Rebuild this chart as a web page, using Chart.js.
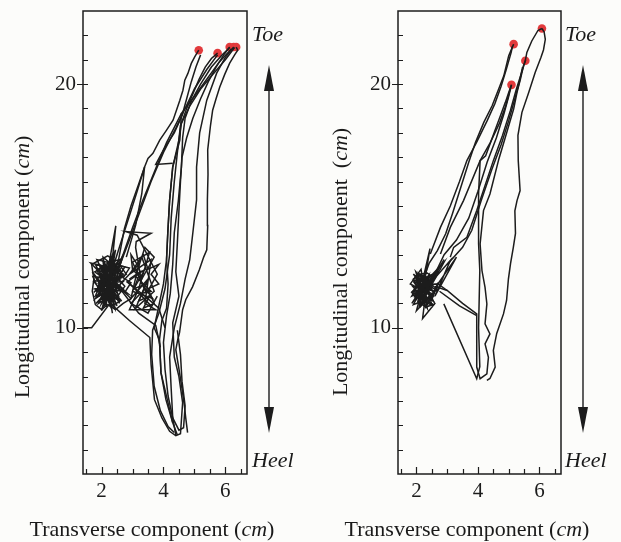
<!DOCTYPE html>
<html lang="en">
<head>
<meta charset="utf-8">
<title>Trayectorias</title>
<script src="https://cdn.jsdelivr.net/npm/chart.js@4.4.1/dist/chart.umd.min.js"></script>
<style>
  body { margin: 0; background: #fcfcfa; }
  #lienzo { position: relative; width: 621px; height: 542px; overflow: hidden;
            font-family: "Liberation Serif", "Times New Roman", serif; color: #1a1a1a; }
  canvas { position: absolute; top: 0; }
  .txt { position: absolute; font-size: 22px; line-height: 22px; white-space: pre; }
  .tit-x { width: 300px; text-align: center; top: 518px; }
  .tit-y { width: 320px; text-align: center; transform: rotate(-90deg); }
  .ext { font-style: italic; }
</style>
</head>
<body>
<div id="lienzo">
  <canvas id="chartIzq" width="310" height="542" style="left:0"></canvas>
  <canvas id="chartDer" width="311" height="542" style="left:310px"></canvas>

  <div class="txt tit-y" style="left:-138px; top:256px">Longitudinal component (<i>cm</i>)</div>
  <div class="txt tit-y" style="left:180px; top:251px">Longitudinal component  (<i>cm</i>)</div>
  <div class="txt tit-x" style="left:2px">Transverse component (<i>cm</i>)</div>
  <div class="txt tit-x" style="left:317px">Transverse component (<i>cm</i>)</div>

  <div class="txt ext" style="left:252px; top:23px">Toe</div>
  <div class="txt ext" style="left:252px; top:449px">Heel</div>
  <div class="txt ext" style="left:565px; top:23px">Toe</div>
  <div class="txt ext" style="left:565px; top:449px">Heel</div>
</div>

<script>
// Ejes (cm)
const etiquetasX = [2, 4, 6];
const etiquetasY = [10, 20];
const marcasX = [1.5, 2, 2.5, 3, 3.5, 4, 4.5, 5, 5.5, 6, 6.5];
const marcasY = [5, 6, 7, 8, 9, 10, 11, 12, 13, 14, 15, 16, 17, 18, 19, 20, 21, 22];

// === Panel izquierdo ===
const izqPuntaX = [5.14, 5.75, 6.14, 6.27, 6.35];
const izqPuntaY = [21.39, 21.27, 21.52, 21.52, 21.52];

const izqNube1 = [[1.41,10.0],[1.68,10.0],[2.27,11.0],[1.95,11.9],[2.5,12.4],[1.8,12.6],[2.35,11.2],[2.05,12.3],[2.7,11.6],[1.9,11.3],[2.3,12.8],[2.15,10.9],[1.72,12.1],[2.6,12.0],[2.0,11.5],[2.45,13.2],[2.25,11.7],[1.85,12.8],[2.75,12.5],[2.1,11.1],[2.4,11.9],[1.78,11.6],[2.55,11.3],[2.2,12.5],[1.65,12.66],[2.15,12.0],[2.46,14.18],[2.3,12.2],[2.0,10.7],[2.6,12.7],[1.95,12.2],[2.5,10.9],[2.3,11.5],[1.82,11.0],[2.68,12.2],[2.05,12.9],[2.35,10.6],[2.2,11.8],[2.85,11.4],[1.9,12.4],[2.4,12.6],[2.1,11.4],[2.7,13.0],[2.25,11.1],[1.75,11.9],[2.55,12.1],[2.0,11.0],[2.38,12.4],[1.88,11.7],[2.62,11.5],[2.12,12.6],[2.42,10.8],[1.7,12.3],[2.3,11.3]];
const izqNube2 = [[2.6,11.8],[3.2,12.6],[2.95,11.2],[3.5,12.0],[3.1,10.8],[3.7,11.5],[3.3,12.9],[2.9,12.2],[3.6,12.8],[3.4,11.0],[3.75,10.74],[2.9,10.74],[3.2,11.6],[3.55,13.1],[3.0,12.7],[3.45,11.4],[3.8,12.2],[3.15,13.8],[2.79,13.95],[3.6,13.88],[3.12,13.54],[3.1,13.3],[3.3,11.8],[3.65,11.2],[3.0,11.5],[3.4,12.4],[2.85,11.9],[3.6,10.9]];
const izqNube3 = [[2.0,12.0],[2.45,11.2],[1.85,11.5],[2.6,12.4],[2.1,10.95],[2.3,12.65],[1.78,12.3],[2.55,11.6],[2.0,12.5],[2.4,11.0],[1.9,11.8],[2.7,11.9],[2.2,11.3],[2.05,12.7],[2.5,11.8],[1.8,11.2],[2.35,12.3],[2.15,11.6],[2.65,11.1],[1.95,12.1],[2.28,10.9],[2.5,12.6],[1.85,12.0],[2.4,11.5],[2.1,12.35],[2.7,12.2],[2.0,11.3],[2.32,11.85],[1.92,12.6],[2.58,11.0],[2.2,12.1],[1.75,11.45],[2.45,12.45],[2.08,11.7],[2.62,11.75]];
const izqNube4 = [[1.9,11.6],[2.1,11.9],[1.95,12.2],[2.25,12.0],[2.1,12.4],[2.4,12.2],[2.2,11.8],[2.5,11.6],[2.3,11.3],[2.6,11.1],[2.35,10.9],[2.15,11.2],[1.9,11.0],[2.05,11.4],[1.8,11.3],[1.95,11.75],[2.2,11.55],[2.45,11.9],[2.65,12.3],[2.4,12.55],[2.6,12.8],[2.3,12.7],[2.05,12.55],[1.85,12.35],[2.0,12.0],[2.35,11.65],[2.55,11.35],[2.75,11.7],[2.55,12.0],[2.8,12.2],[2.6,12.55],[2.9,12.45],[2.7,12.05],[2.95,11.85],[2.75,11.45],[2.95,11.2],[2.7,11.0],[2.45,10.75],[2.2,10.95],[2.0,10.75],[1.8,10.95],[1.7,11.5],[1.75,12.0],[1.68,12.6],[1.9,12.75],[2.2,12.95],[2.45,12.75]];
const izqNube5 = [[2.9,12.0],[3.25,12.3],[3.05,11.6],[3.45,11.8],[3.2,11.1],[3.55,11.3],[3.35,10.8],[3.7,11.0],[3.5,11.6],[3.85,11.8],[3.6,12.2],[3.85,12.6],[3.5,12.4],[3.35,13.0],[3.15,12.6],[2.95,13.0],[3.0,12.4],[3.3,12.0],[3.7,12.9],[3.4,13.3],[3.1,12.1],[3.6,11.5],[3.25,11.4],[2.95,11.0],[3.5,10.6],[3.8,11.3]];

const izqPaso1 = [[2.3,12.0],[2.55,12.8],[2.74,14.08],[2.95,15.0],[3.2,15.9],[3.39,16.6],[3.5,16.95],[3.66,17.16],[3.88,17.7],[4.1,18.11],[4.31,18.52],[4.42,18.93],[4.53,19.34],[4.63,19.75],[4.69,20.16],[4.79,20.44],[4.9,20.85],[5.01,21.12],[5.14,21.39]];
const izqPaso2 = [[4.45,5.6],[4.3,6.1],[4.08,7.05],[3.92,8.16],[3.87,9.5],[3.95,10.3],[4.1,10.8],[4.15,11.8],[4.1,12.8],[4.14,13.9],[4.2,15.25],[4.3,16.6],[4.5,17.7],[4.58,18.4],[4.75,19.0],[4.95,19.6],[5.15,20.2],[5.35,20.7],[5.55,21.05],[5.75,21.27]];
const izqPaso3 = [[2.37,10.9],[2.9,10.3],[3.56,9.6],[3.6,8.5],[3.71,7.05],[3.95,6.3],[4.2,5.75],[4.4,5.57],[4.55,5.65],[4.62,6.93],[4.5,8.0],[4.35,8.8],[4.3,10.2],[4.5,11.3],[4.4,12.3],[4.45,13.5],[4.5,14.8],[4.55,16.0],[4.6,17.0],[4.75,17.8],[4.95,18.6],[5.2,19.4],[5.45,20.1],[5.7,20.7],[5.95,21.2],[6.14,21.52]];
const izqPaso4 = [[4.4,5.6],[4.3,6.3],[4.25,7.5],[4.2,8.8],[4.35,10.0],[4.55,11.0],[4.7,12.0],[4.85,12.8],[4.95,13.9],[5.07,15.25],[5.07,16.6],[5.17,18.0],[5.4,19.34],[5.72,20.45],[6.0,21.1],[6.27,21.52]];
const izqPaso5 = [[4.78,5.7],[4.72,6.3],[4.68,6.76],[4.6,7.5],[4.52,8.16],[4.45,8.7],[4.4,9.1],[4.46,9.5],[4.52,9.8],[4.62,10.74],[4.72,11.15],[4.94,11.68],[5.16,12.38],[5.3,12.9],[5.4,13.2],[5.43,14.2],[5.42,15.25],[5.44,16.3],[5.43,17.3],[5.52,18.3],[5.59,18.93],[5.7,19.4],[5.82,19.88],[5.98,20.4],[6.14,20.86],[6.3,21.2],[6.4,21.39],[6.35,21.52]];

const izqVuelta1 = [[6.2,21.45],[5.8,20.9],[5.4,20.2],[5.0,19.5],[4.58,18.8],[4.1,17.6],[3.77,16.6],[3.34,15.25],[3.0,14.1],[2.75,13.2],[2.5,12.3]];
const izqVuelta2 = [[5.75,21.2],[5.4,20.6],[5.0,19.8],[4.7,19.0],[4.4,18.2],[4.0,17.2],[3.6,16.0],[3.25,14.8],[2.9,13.6],[2.6,12.6]];
const izqVuelta3 = [[4.58,18.8],[4.53,17.7],[4.3,16.6],[4.2,15.25],[4.14,13.9],[4.1,12.8],[4.0,11.8],[3.85,10.9],[3.7,10.0],[3.87,9.5],[3.92,8.16],[4.3,6.1]];
const izqVuelta4 = [[5.2,21.2],[5.05,20.7],[4.9,20.1],[4.75,19.4],[4.6,18.7],[4.35,18.0],[4.0,17.3],[3.75,16.7],[4.3,16.75]];
const izqVuelta5 = [[6.3,21.5],[6.0,21.0],[5.6,20.4],[5.2,19.8],[4.85,19.1],[4.55,18.3],[4.45,17.2],[4.35,16.0],[4.25,14.5],[4.2,13.0],[4.05,11.6],[3.85,10.6],[3.65,9.9],[3.62,8.9],[3.7,7.6],[3.9,6.6],[4.15,5.95],[4.35,5.7]];
const izqVuelta6 = [[6.14,21.5],[5.9,21.2],[5.55,20.7],[5.2,20.0],[4.9,19.3],[4.7,18.6],[4.62,17.8],[4.58,16.6],[4.48,15.2],[4.35,13.9],[4.3,12.6],[4.22,11.4],[4.1,10.5],[4.0,9.4],[4.05,8.3],[4.15,7.2],[4.3,6.3],[4.5,5.8],[4.65,5.9],[4.7,6.8],[4.6,7.8],[4.55,8.9],[4.45,9.9]];
const izqCruces1 = [[2.6,11.6],[3.2,10.6],[3.75,10.1],[3.9,9.2]];
const izqCruces2 = [[2.8,11.9],[3.4,11.3],[3.85,10.8],[4.05,10.0]];
const izqCruces3 = [[2.4,12.6],[2.65,13.6],[2.9,14.6],[3.15,15.6],[3.39,16.6],[3.3,15.5],[3.1,14.2],[2.8,12.9]];

// === Panel derecho ===
const derPuntaX = [6.08, 5.16, 5.54, 5.09];
const derPuntaY = [22.28, 21.64, 20.96, 19.97];

const derNube = [[2.2,11.5],[1.9,11.9],[2.4,11.1],[2.0,12.1],[2.5,11.7],[1.85,11.3],[2.3,12.3],[2.1,10.9],[2.6,12.0],[1.95,11.6],[2.35,10.8],[2.15,12.4],[1.8,11.8],[2.55,11.3],[2.05,11.1],[2.44,13.25],[2.25,11.8],[1.9,12.2],[2.6,11.0],[2.2,10.38],[2.3,11.4],[2.0,11.9],[2.7,12.3],[2.1,11.5],[1.85,11.0],[2.45,12.0],[2.25,11.2],[2.9,12.7],[2.15,11.7],[1.95,11.4],[2.5,10.9],[2.3,12.1],[2.0,10.7],[2.65,11.6],[2.1,12.2],[2.35,11.6],[1.88,11.5],[2.55,12.2],[2.18,11.0],[2.4,11.7],[2.05,11.8],[2.28,10.95],[1.98,12.3],[2.6,11.4]];
const derNube2 = [[2.25,11.6],[1.95,11.1],[2.5,11.9],[2.05,12.2],[2.35,11.0],[1.88,11.7],[2.6,11.5],[2.15,10.9],[2.4,12.15],[2.0,11.4],[2.55,11.1],[2.2,12.0],[1.9,11.95],[2.45,11.35],[2.1,11.75],[2.7,11.8],[2.3,10.85],[1.98,12.05],[2.38,11.45],[2.12,11.15],[2.62,12.1],[1.92,11.25],[2.28,11.9],[2.5,11.6],[2.05,11.55]];
const derNube3 = [[2.0,11.4],[2.2,11.7],[2.05,11.95],[2.3,11.85],[2.15,12.15],[2.4,12.0],[2.25,11.55],[2.5,11.4],[2.3,11.15],[2.55,10.95],[2.3,10.85],[2.1,11.05],[1.9,10.95],[2.0,11.2],[1.85,11.45],[2.0,11.7],[1.9,12.0],[2.1,12.2],[2.35,12.25],[2.55,12.05],[2.45,11.7],[2.65,11.55],[2.7,11.85],[2.5,11.15],[2.2,11.3],[1.95,11.55]];
const derPicos = [[2.3,11.6],[2.9,12.8],[2.5,11.9],[3.1,12.76],[2.6,11.3],[3.3,12.9],[2.7,11.8],[3.0,11.53]];

const derPaso1 = [[4.29,7.84],[4.39,7.92],[4.56,8.39],[4.5,9.07],[4.61,9.77],[4.83,10.57],[4.93,11.12],[4.99,12.0],[5.06,12.64],[5.15,13.3],[5.22,13.87],[5.2,14.8],[5.27,15.22],[5.37,15.63],[5.31,16.86],[5.3,17.9],[5.43,18.84],[5.65,19.66],[5.86,20.48],[6.05,21.1],[6.13,21.4],[6.19,21.84],[6.15,22.15],[6.08,22.28]];
const derPaso2 = [[2.2,11.9],[2.41,12.64],[2.68,13.17],[2.95,13.86],[3.17,14.68],[3.44,15.76],[3.7,16.79],[3.92,17.61],[4.19,18.43],[4.46,19.11],[4.68,19.82],[4.84,20.34],[5.0,21.16],[5.16,21.64]];
const derPaso3 = [[2.6,11.7],[3.0,11.53],[3.5,11.0],[3.96,10.57],[3.96,9.5],[3.96,8.39],[4.07,7.91],[4.29,8.11],[4.34,8.79],[4.23,9.34],[4.39,9.75],[4.23,10.16],[4.29,10.98],[4.23,11.66],[4.13,12.35],[4.07,13.44],[4.18,14.81],[4.39,15.49],[4.68,16.93],[4.84,17.6],[5.0,18.29],[5.16,18.98],[5.27,19.66],[5.38,20.2],[5.48,20.75],[5.54,20.96]];
const derPaso4 = [[2.89,10.98],[3.96,7.91],[4.06,8.4],[4.02,10.0],[4.06,12.35],[4.02,13.46],[4.02,15.5],[4.07,16.86],[4.25,17.06],[4.41,17.6],[4.57,18.16],[4.73,18.7],[4.89,19.25],[5.0,19.66],[5.09,19.97]];

const derVuelta1 = [[2.45,13.03],[2.78,14.12],[3.1,15.0],[3.4,16.0],[3.64,16.86],[3.95,17.6],[4.3,18.5],[4.55,19.2],[4.75,19.9],[4.92,20.6],[5.08,21.3],[5.12,21.55]];
const derVuelta2 = [[2.78,13.03],[3.1,14.12],[3.53,15.22],[4.07,16.86],[4.4,17.6],[4.7,18.4],[4.9,19.1],[5.05,19.8]];
const derVuelta3 = [[3.1,12.9],[3.21,13.3],[3.64,13.71],[3.96,14.81],[4.5,16.86],[4.8,17.9],[5.05,18.9],[5.25,19.8],[5.45,20.6],[5.55,21.0]];
const derVuelta4 = [[5.54,20.96],[5.59,21.3],[5.75,21.77],[5.95,22.2],[6.08,22.28]];
const derVuelta5 = [[2.6,12.2],[2.9,13.0],[3.3,13.6],[3.7,14.5],[4.0,15.6],[4.3,16.8],[4.6,17.8],[4.85,18.8],[5.0,19.5],[5.09,19.97]];
const derVuelta6 = [[3.0,12.6],[3.5,13.3],[3.8,14.0],[4.1,15.2],[4.45,16.5],[4.75,17.5],[5.0,18.5],[5.2,19.4],[5.35,20.1],[5.45,20.7]];
const derBajada = [[2.75,11.5],[3.4,10.9],[3.96,10.5]];

const tinta = "#1c1c1c";
const fuenteTicks = { family: "Liberation Serif", size: 21 };

// Marco, marcas de los ejes y flecha Toe/Heel
const marco = {
  id: "marco",
  afterDraw(chart, args, opts) {
    const { ctx, chartArea: a, scales: { x, y } } = chart;
    ctx.save();
    ctx.strokeStyle = tinta;
    ctx.fillStyle = tinta;
    ctx.lineWidth = 1.5;
    ctx.strokeRect(a.left, a.top, a.right - a.left, a.bottom - a.top);

    ctx.lineWidth = 1.2;
    ctx.beginPath();
    marcasX.forEach(v => {
      const px = Math.round(x.getPixelForValue(v)) + 0.5;
      const largo = etiquetasX.includes(v) ? 7 : 5;
      ctx.moveTo(px, a.bottom);
      ctx.lineTo(px, a.bottom - largo);
    });
    marcasY.forEach(v => {
      const py = Math.round(y.getPixelForValue(v)) + 0.5;
      const mayor = etiquetasY.includes(v);
      ctx.moveTo(a.left - (mayor ? 6 : 0), py);
      ctx.lineTo(a.left + 5, py);
    });
    ctx.stroke();

    const fx = opts.flechaX;
    ctx.lineWidth = 1.4;
    ctx.beginPath();
    ctx.moveTo(fx, 88);
    ctx.lineTo(fx, 410);
    ctx.stroke();
    ctx.beginPath();
    ctx.moveTo(fx, 65); ctx.lineTo(fx - 5, 91); ctx.lineTo(fx + 5, 91);
    ctx.closePath(); ctx.fill();
    ctx.beginPath();
    ctx.moveTo(fx, 433); ctx.lineTo(fx - 5, 407); ctx.lineTo(fx + 5, 407);
    ctx.closePath(); ctx.fill();
    ctx.restore();
  }
};

function crearGrafica(id, trazos, puntaX, puntaY, anchoEje, margenDer, flechaX) {
  const datasets = trazos.map(t => ({
    data: t.map(([x, y]) => ({ x, y })),
    showLine: true,
    pointRadius: 0,
    borderColor: tinta,
    borderWidth: 1.5,
    tension: 0
  }));
  datasets.push({
    data: puntaX.map((x, i) => ({ x, y: puntaY[i] })),
    showLine: false,
    pointRadius: 4.3,
    backgroundColor: "#e23a3c",
    borderWidth: 0
  });

  return new Chart(document.getElementById(id), {
    type: "scatter",
    data: { datasets },
    options: {
      responsive: false,
      animation: false,
      events: [],
      layout: { padding: { left: 0, right: margenDer, top: 11, bottom: 38 } },
      plugins: {
        legend: { display: false },
        tooltip: { enabled: false },
        marco: { flechaX }
      },
      scales: {
        x: {
          type: "linear", min: 1.4, max: 6.7,
          grid: { display: false, drawTicks: false },
          border: { display: false },
          ticks: { stepSize: 2, includeBounds: false, padding: 5, color: tinta, font: fuenteTicks },
          afterFit: s => { s.height = 30; s.paddingLeft = 0; s.paddingRight = 0; }
        },
        y: {
          type: "linear", min: 4, max: 23,
          grid: { display: false, drawTicks: false },
          border: { display: false },
          ticks: { stepSize: 10, includeBounds: false, padding: 7, color: tinta, font: fuenteTicks },
          afterFit: s => { s.width = anchoEje; s.paddingTop = 0; s.paddingBottom = 0; }
        }
      }
    },
    plugins: [marco]
  });
}

crearGrafica("chartIzq",
  [izqNube1, izqNube2, izqNube3, izqNube4, izqNube5, izqCruces1, izqCruces2, izqCruces3,
   izqVuelta1, izqVuelta2, izqVuelta3, izqVuelta4, izqVuelta5, izqVuelta6,
   izqPaso1, izqPaso2, izqPaso3, izqPaso4, izqPaso5],
  izqPuntaX, izqPuntaY, 83, 63, 269);

crearGrafica("chartDer",
  [derNube, derNube2, derNube3, derPicos, derBajada, derVuelta1, derVuelta2, derVuelta3,
   derVuelta4, derVuelta5, derVuelta6, derPaso1, derPaso2, derPaso3, derPaso4],
  derPuntaX, derPuntaY, 88, 60, 273);
</script>
</body>
</html>
